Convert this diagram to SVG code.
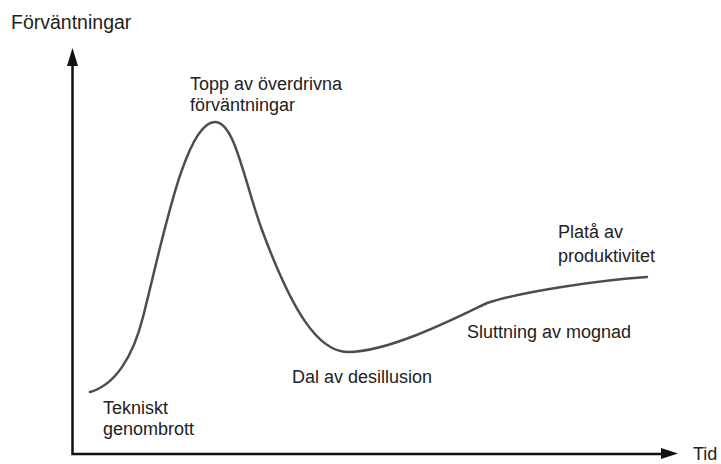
<svg xmlns="http://www.w3.org/2000/svg" width="721" height="464" viewBox="0 0 721 464">
  <style>
    .lbl { font-family: "Liberation Sans", Arial, sans-serif; font-size: 18px; fill: #222; }
    .title { font-size: 19.5px; }
    .axis { stroke: #111; stroke-width: 2.5; fill: none; }
    .head { fill: #111; }
    .curve { stroke: #4d4d4d; stroke-width: 2.5; fill: none; stroke-linecap: round; }
  </style>
  <rect width="721" height="464" fill="#fff"/>

  <!-- axes -->
  <g id="axes">
    <path class="axis" d="M72.5,64 V454 H664"/>
    <polygon class="head" points="72.5,48 67,66 78,66"/>
    <polygon class="head" points="678,453.5 661,448 661,459"/>
  </g>

  <!-- hype curve -->
  <g id="connectors">
    <path class="curve" d="M90,392
      C115,385 133,357 143,317
      C162,243 185,122 215,122
      C235,122 244,181 262,230
      C292,311 318,352 348,352
      C390,352 460,316 487,303
      C520,292 600,280 647,277"/>
  </g>

  <g id="axis-y-label"><text class="lbl title" x="11" y="29">Förväntningar</text></g>
  <g id="axis-x-label"><text class="lbl" x="693" y="460">Tid</text></g>

  <g id="tekniskt-genombrott">
    <text class="lbl" x="103" y="414">Tekniskt</text>
    <text class="lbl" x="103" y="435">genombrott</text>
  </g>
  <g id="topp">
    <text class="lbl" x="190" y="90">Topp av överdrivna</text>
    <text class="lbl" x="190" y="111">förväntningar</text>
  </g>
  <g id="dal">
    <text class="lbl" x="292" y="383">Dal av desillusion</text>
  </g>
  <g id="sluttning">
    <text class="lbl" x="467" y="338">Sluttning av mognad</text>
  </g>
  <g id="platå">
    <text class="lbl" x="558" y="238">Platå av</text>
    <text class="lbl" x="558" y="262">produktivitet</text>
  </g>
</svg>
